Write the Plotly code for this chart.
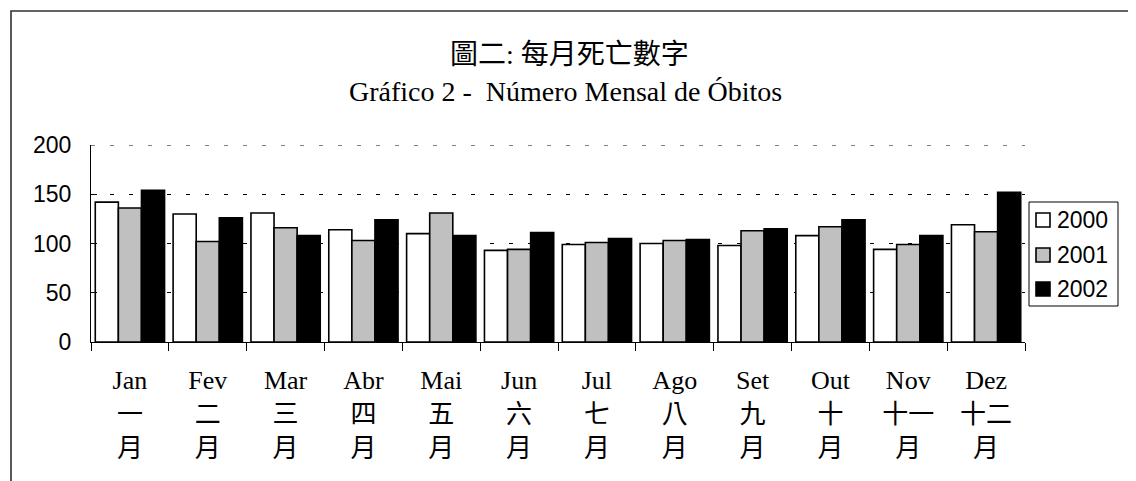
import plotly.graph_objects as go

months_pt = ["Jan", "Fev", "Mar", "Abr", "Mai", "Jun", "Jul", "Ago", "Set", "Out", "Nov", "Dez"]
months_zh = ["一", "二", "三", "四", "五", "六", "七", "八", "九", "十", "十一", "十二"]
categories = [f"{p}<br>{z}<br>月" for p, z in zip(months_pt, months_zh)]

years = ["2000", "2001", "2002"]
v2000 = [142, 130, 131, 114, 110, 93, 99, 100, 98, 108, 94, 119]
v2001 = [136, 102, 116, 103, 131, 94, 101, 103, 113, 117, 99, 112]
v2002 = [154, 126, 108, 124, 108, 111, 105, 104, 115, 124, 108, 152]
series = [v2000, v2001, v2002]
colors = ["#FFFFFF", "#C0C0C0", "#000000"]

# page body has an 8px margin; figure is sized so the plot lands at page coords
OFF = 8
W, H = 1136 - OFF, 481 - OFF
PX0, PX1 = 91, 1025      # plot area left/right (page px)
PY0, PY1 = 145, 342      # plot area top/bottom (page px)
L, T = PX0 - OFF, PY0 - OFF
R = W - (PX1 - OFF)
B = H - (PY1 - OFF)
pw, ph = PX1 - PX0, PY1 - PY0

def px_x(x):
    return (x - PX0) / pw

def px_y(y):
    return (PY1 - y) / ph

fig = go.Figure()
for name, vals, col in zip(years, series, colors):
    fig.add_trace(go.Bar(
        x=categories, y=vals, name=name,
        marker=dict(color=col, line=dict(color="black", width=1.6)),
        showlegend=False,
    ))

serif = "Liberation Serif, Times New Roman, Noto Sans CJK TC, serif"
sans = "Liberation Sans, Arial, sans-serif"

shapes = [dict(
    type="rect", xref="paper", yref="paper",
    x0=px_x(11), x1=px_x(1150), y0=px_y(500), y1=px_y(11),
    line=dict(color="#303030", width=1.6), fillcolor="rgba(0,0,0,0)", layer="below",
)]
# top gridline (at the range edge, which plotly omits)
shapes.append(dict(
    type="line", xref="paper", yref="y", x0=0, x1=1, y0=200, y1=200,
    line=dict(color="black", width=1, dash="4px,15px"), layer="below",
))
# legend box
shapes.append(dict(
    type="rect", xref="paper", yref="paper",
    x0=px_x(1029), x1=px_x(1118), y0=px_y(306), y1=px_y(202),
    line=dict(color="black", width=1), fillcolor="white", layer="above",
))
annotations = [
    dict(text="圖二: 每月死亡數字", xref="paper", yref="paper",
         x=px_x(569), y=px_y(54), xanchor="center", yanchor="middle",
         showarrow=False, font=dict(family=serif, size=28, color="black")),
    dict(text="Gráfico 2 -  Número Mensal de Óbitos", xref="paper", yref="paper",
         x=px_x(565), y=px_y(91), xanchor="center", yanchor="middle",
         showarrow=False, font=dict(family=serif, size=28, color="black")),
]
leg_y = [220, 255, 289]
for name, col, yc in zip(years, colors, leg_y):
    shapes.append(dict(
        type="rect", xref="paper", yref="paper",
        x0=px_x(1036), x1=px_x(1050), y0=px_y(yc + 7), y1=px_y(yc - 7),
        line=dict(color="black", width=1.6), fillcolor=col, layer="above",
    ))
    annotations.append(dict(
        text=name, xref="paper", yref="paper",
        x=px_x(1055), y=px_y(yc), xanchor="left", yanchor="middle",
        showarrow=False, font=dict(family=sans, size=23, color="black"),
    ))

fig.update_layout(
    width=W, height=H,
    margin=dict(l=L, r=R, t=T, b=B, autoexpand=False),
    paper_bgcolor="white", plot_bgcolor="white",
    barmode="group", bargap=0.11, bargroupgap=0,
    showlegend=False,
    xaxis=dict(
        type="category",
        showline=True, linecolor="black", linewidth=1,
        ticks="outside", tickson="boundaries", ticklen=8, tickcolor="black",
        tickfont=dict(family=serif, size=26, color="black"),
        ticklabelstandoff=15,
        showgrid=False,
    ),
    yaxis=dict(
        range=[0, 200], dtick=50,
        showline=True, linecolor="black", linewidth=1,
        ticks="inside", ticklen=6, tickcolor="black",
        tickfont=dict(family=sans, size=23, color="black"),
        ticklabelstandoff=14,
        showgrid=True, gridcolor="black", gridwidth=1, griddash="4px,15px",
        zeroline=False,
    ),
    shapes=shapes,
    annotations=annotations,
)

fig.write_html("out.html")
